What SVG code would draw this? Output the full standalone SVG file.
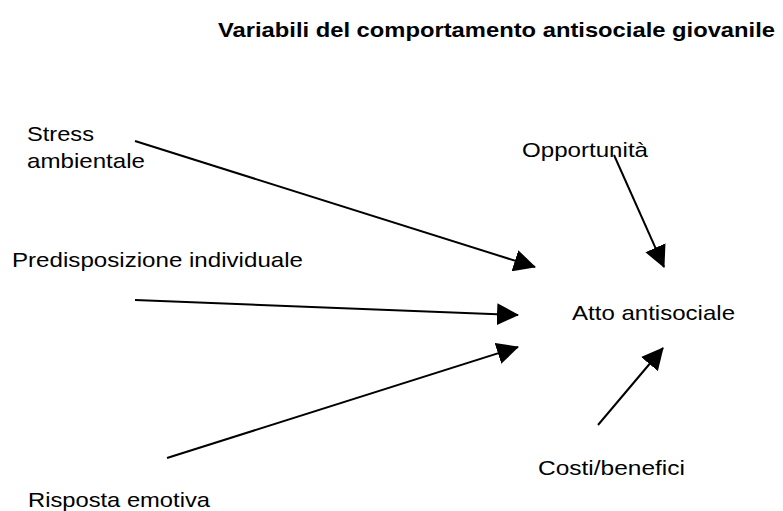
<svg xmlns="http://www.w3.org/2000/svg" width="783" height="511" viewBox="0 0 783 511">
<style>
text{font-family:"Liberation Sans",Arial,sans-serif;font-size:21px;fill:#000}
.title{font-weight:bold;font-size:21px}
.conn line{stroke:#000;stroke-width:2;fill:none}
</style>
<defs>
<marker id="ah" markerUnits="userSpaceOnUse" markerWidth="22" markerHeight="22" refX="21" refY="11" orient="auto" viewBox="0 0 22 22">
<path d="M0,0 L22,11 L0,22 Z" fill="#000"/>
</marker>
</defs>
<rect width="783" height="511" fill="#fff"/>
<g id="title"><text class="title" x="218" y="37" textLength="557" lengthAdjust="spacingAndGlyphs">Variabili del comportamento antisociale giovanile</text></g>
<g id="stress"><text x="27" y="141" textLength="67" lengthAdjust="spacingAndGlyphs">Stress</text><text x="27" y="168" textLength="118" lengthAdjust="spacingAndGlyphs">ambientale</text></g>
<g id="predisposizione"><text x="12" y="267" textLength="291" lengthAdjust="spacingAndGlyphs">Predisposizione individuale</text></g>
<g id="risposta"><text x="28" y="507" textLength="182" lengthAdjust="spacingAndGlyphs">Risposta emotiva</text></g>
<g id="opportunita"><text x="522" y="157" textLength="126" lengthAdjust="spacingAndGlyphs">Opportunità</text></g>
<g id="atto"><text x="572" y="320" textLength="163" lengthAdjust="spacingAndGlyphs">Atto antisociale</text></g>
<g id="costi"><text x="538" y="475" textLength="147" lengthAdjust="spacingAndGlyphs">Costi/benefici</text></g>
<g id="connectors" class="conn">
<line x1="135" y1="141" x2="535" y2="267" marker-end="url(#ah)"/>
<line x1="135" y1="300" x2="518" y2="315" marker-end="url(#ah)"/>
<line x1="167" y1="458" x2="518" y2="347" marker-end="url(#ah)"/>
<line x1="614" y1="155" x2="664" y2="267" marker-end="url(#ah)"/>
<line x1="598" y1="425" x2="663" y2="348" marker-end="url(#ah)"/>
</g>
</svg>
